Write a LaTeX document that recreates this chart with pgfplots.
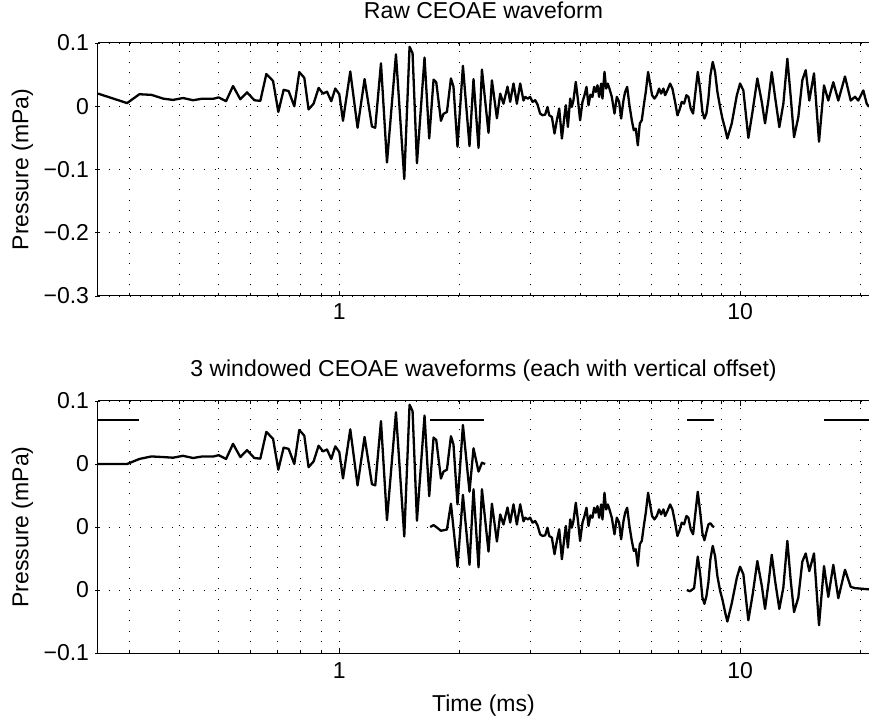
\documentclass[border=0pt]{standalone}
\usepackage{fontspec}
\setmainfont{Liberation Sans}
\usepackage{pgfplots}
\pgfplotsset{compat=1.18}
\usepackage{pgfplotstable}

\pgfplotstableread{
t p
0.2500 0.020
0.2955 0.005
0.3171 0.019
0.3398 0.018
0.3640 0.012
0.3848 0.010
0.4075 0.013
0.4316 0.0095
0.4553 0.012
0.4859 0.012
0.5000 0.014
0.5218 0.008
0.5431 0.032
0.5664 0.011
0.5886 0.022
0.6138 0.0095
0.6353 0.0085
0.6577 0.051
0.6835 0.040
0.7046 -0.009
0.7264 0.026
0.7476 0.024
0.7724 0.000
0.7947 0.054
0.8179 0.045
0.8382 -0.005
0.8627 0.004
0.8880 0.029
0.9108 0.020
0.9318 0.023
0.9550 0.008
0.9773 0.028
1.0000 0.019
1.0215 -0.023
1.0652 0.055
1.1107 -0.034
1.1563 0.043
1.2064 -0.032
1.2295 -0.034
1.2706 0.068
1.3152 -0.089
1.3849 0.082
1.4526 -0.115
1.4974 0.094
1.5235 0.084
1.5624 -0.090
1.6320 0.077
1.6766 -0.051
1.7188 0.042
1.7456 0.038
1.7932 -0.023
1.8202 -0.012
1.8562 -0.009
1.8994 0.044
1.9275 0.031
1.9724 -0.064
2.0347 0.064
2.1131 -0.063
2.1623 0.043
2.2255 -0.066
2.2695 0.058
2.3569 -0.042
2.4034 0.041
2.4736 -0.019
2.5207 0.020
2.5687 0.004
2.6285 0.031
2.6694 0.007
2.7208 0.036
2.7740 0.004
2.8275 0.036
2.8815 0.009
2.910 0.0148
2.954 0.0121
2.994 0.0148
3.035 0.0069
3.082 0.0095
3.124 0.0026
3.171 -0.0116
3.214 -0.0142
3.264 -0.0132
3.308 -0.0011
3.340 -0.0142
3.392 -0.0169
3.444 -0.0432
3.491 -0.0221
3.538 -0.0037
3.593 -0.0511
3.648 -0.0142
3.676 0.0016
3.719 -0.0327
3.768 0.0121
3.804 -0.0011
3.840 0.0095
3.892 0.0385
3.937 0.0121
3.990 -0.0221
4.044 0.0069
4.091 0.0174
4.138 0.0306
4.186 0.0016
4.234 0.0184
4.283 0.0148
4.324 0.0306
4.366 0.0227
4.408 0.0332
4.450 0.0148
4.502 0.0358
4.536 0.0121
4.589 0.0543
4.633 0.0279
4.677 0.0358
4.722 0.0279
4.786 0.0148
4.860 -0.0116
4.926 0.0148
4.992 0.0069
5.050 -0.0195
5.118 0.0095
5.167 0.0227
5.227 0.0306
5.297 0.0016
5.369 -0.0221
5.431 -0.0379
5.493 -0.0353
5.557 -0.0617
5.621 -0.0274
5.686 -0.0221
5.752 0.0016
5.818 0.0227
5.896 0.0543
5.964 0.0358
6.033 0.0174
6.115 0.0121
6.197 0.0174
6.281 0.0279
6.353 0.0200
6.439 0.0279
6.501 0.0174
6.588 0.0253
6.690 0.0358
6.780 0.0279
6.885 0.0069
6.978 -0.0142
7.058 -0.0063
7.154 0.0069
7.250 0.0042
7.348 0.0174
7.433 0.0148
7.533 -0.0037
7.635 -0.0116
7.723 0.0174
7.843 0.0543
7.948 0.0279
8.055 -0.0090
8.148 -0.0195
8.242 -0.0116
8.337 0.0121
8.433 0.0490
8.547 0.0701
8.662 0.0543
8.779 0.0227
8.915 -0.0011
9.035 -0.0195
9.175 -0.0353
9.2964 -0.051
9.5345 -0.027
9.8130 0.017
10.000 0.036
10.191 0.025
10.488 -0.050
10.757 -0.006
11.044 0.044
11.327 0.007
11.543 -0.027
11.765 0.009
11.997 0.054
12.226 0.015
12.531 -0.033
12.823 0.004
13.122 0.075
13.378 0.015
13.636 -0.049
13.976 -0.017
14.301 0.041
14.581 0.057
14.886 0.009
15.293 0.052
15.740 -0.056
16.199 0.033
16.603 0.009
17.088 0.038
17.584 0.009
18.273 0.047
18.884 0.009
19.356 0.015
19.725 0.009
20.300 0.025
20.701 0.004
20.976 -0.001
}\rawdata

\pgfplotstableread{
t p
0.2500 0
0.2955 0
0.3171 0.008
0.3398 0.012
0.3640 0.011
0.3848 0.010
0.4075 0.013
0.4316 0.0095
0.4553 0.012
0.4859 0.012
0.5000 0.014
0.5218 0.008
0.5431 0.032
0.5664 0.011
0.5886 0.022
0.6138 0.0095
0.6353 0.0085
0.6577 0.051
0.6835 0.040
0.7046 -0.009
0.7264 0.026
0.7476 0.024
0.7724 0.000
0.7947 0.054
0.8179 0.045
0.8382 -0.005
0.8627 0.004
0.8880 0.029
0.9108 0.020
0.9318 0.023
0.9550 0.008
0.9773 0.028
1.0000 0.019
1.0215 -0.023
1.0652 0.055
1.1107 -0.034
1.1563 0.043
1.2064 -0.032
1.2295 -0.034
1.2706 0.068
1.3152 -0.089
1.3849 0.082
1.4526 -0.115
1.4974 0.094
1.5235 0.084
1.5624 -0.090
1.6320 0.077
1.6766 -0.051
1.7188 0.042
1.7456 0.038
1.7932 -0.023
1.8202 -0.012
1.8562 -0.009
1.8994 0.044
1.9275 0.031
1.9724 -0.064
2.0347 0.062
2.1131 -0.044
2.1623 0.025
2.2255 -0.012
2.2695 0.002
2.3120 0.000
}\wone

\pgfplotstableread{
t p
1.6860 0
1.7188 0.003
1.7456 0.000
1.7932 -0.006
1.8562 -0.004
1.8994 0.037
1.9724 -0.063
2.0347 0.051
2.1131 -0.060
2.1623 0.060
2.2255 -0.064
2.2695 0.060
2.3569 -0.039
2.4034 0.037
2.4736 -0.023
2.5207 0.020
2.5687 0.004
2.6285 0.031
2.6694 0.007
2.7208 0.036
2.7740 0.004
2.8275 0.036
2.8815 0.009
2.910 0.0148
2.954 0.0121
2.994 0.0148
3.035 0.0069
3.082 0.0095
3.124 0.0026
3.171 -0.0116
3.214 -0.0142
3.264 -0.0132
3.308 -0.0011
3.340 -0.0142
3.392 -0.0169
3.444 -0.0432
3.491 -0.0221
3.538 -0.0037
3.593 -0.0511
3.648 -0.0142
3.676 0.0016
3.719 -0.0327
3.768 0.0121
3.804 -0.0011
3.840 0.0095
3.892 0.0385
3.937 0.0121
3.990 -0.0221
4.044 0.0069
4.091 0.0174
4.138 0.0306
4.186 0.0016
4.234 0.0184
4.283 0.0148
4.324 0.0306
4.366 0.0227
4.408 0.0332
4.450 0.0148
4.502 0.0358
4.536 0.0121
4.589 0.0543
4.633 0.0279
4.677 0.0358
4.722 0.0279
4.786 0.0148
4.860 -0.0116
4.926 0.0148
4.992 0.0069
5.050 -0.0195
5.118 0.0095
5.167 0.0227
5.227 0.0306
5.297 0.0016
5.369 -0.0221
5.431 -0.0379
5.493 -0.0353
5.557 -0.0617
5.621 -0.0274
5.686 -0.0221
5.752 0.0016
5.818 0.0227
5.896 0.0543
5.964 0.0358
6.033 0.0174
6.115 0.0121
6.197 0.0174
6.281 0.0279
6.353 0.0200
6.439 0.0279
6.501 0.0174
6.588 0.0253
6.690 0.0358
6.780 0.0279
6.885 0.0069
6.978 -0.0142
7.058 -0.0063
7.154 0.0069
7.250 0.0042
7.348 0.0174
7.433 0.0148
7.533 -0.0040
7.635 -0.0116
7.723 0.0174
7.843 0.0560
7.948 0.0250
8.055 -0.0100
8.148 -0.0210
8.242 -0.0080
8.337 0.0040
8.433 0.0060
8.547 0.0010
8.620 0.0000
}\wtwo

\pgfplotstableread{
t p
7.3641 0
7.5046 -0.002
7.6794 0.003
7.843 0.053
7.948 0.027
8.055 -0.012
8.148 -0.022
8.242 -0.010
8.337 0.012
8.433 0.049
8.547 0.070
8.662 0.054
8.779 0.022
8.915 -0.001
9.035 -0.015
9.175 -0.035
9.2964 -0.050
9.5345 -0.021
9.8130 0.019
10.000 0.037
10.191 0.025
10.488 -0.048
10.757 -0.006
11.044 0.046
11.327 0.007
11.543 -0.030
11.765 0.009
11.997 0.056
12.226 0.015
12.531 -0.030
12.823 0.004
13.122 0.078
13.378 0.015
13.636 -0.035
13.976 -0.012
14.301 0.045
14.581 0.058
14.886 0.030
15.293 0.058
15.740 -0.056
16.199 0.038
16.603 -0.011
17.088 0.040
17.584 -0.013
18.273 0.032
18.884 0.005
19.356 0.003
20.976 0.001
}\wthree

\begin{document}
\begin{tikzpicture}[font=\fontsize{23bp}{27bp}\selectfont]
\path[use as bounding box] (0,0) rectangle (869bp,717bp);
\begin{semilogxaxis}[
  at={(98bp,421bp)}, anchor=south west,
  scale only axis, width=771bp, height=253bp,
  xmin=0.25, xmax=20.976,
  ymin=-0.3, ymax=0.1,
  xtick={1,10}, xticklabels={1,10},
  minor xtick={0.3,0.4,0.5,0.6,0.7,0.8,0.9,2,3,4,5,6,7,8,9,20},
  ytick={-0.3,-0.2,-0.1,0,0.1},
  yticklabels={−0.3,−0.2,−0.1,0,0.1},
  xmajorgrids, xminorgrids, ymajorgrids,
  major grid style={black, line width=0.9bp, dash pattern=on 0.9bp off 9.7bp},
  minor grid style={black, line width=0.9bp, dash pattern=on 0.9bp off 9.7bp},
  tick align=inside, major tick length=5bp, minor tick length=3bp,
  every tick/.style={black, line width=0.9bp},
  axis line style={line width=1bp},
  axis x line=box, axis y line=left,
  y axis line style={-},
  yticklabel style={xshift=-3bp},
  xticklabel style={yshift=-4bp},
  ylabel={Pressure (mPa)},
  ylabel style={at={(axis description cs:-0.0979,0.5)}, anchor=center},
  title={Raw CEOAE waveform},
  title style={at={(axis description cs:0.5,1)}, anchor=base, yshift=18.5bp},
]
\addplot[black, line width=2.3bp, line join=round] table[x=t, y=p] {\rawdata};
\end{semilogxaxis}
\begin{semilogxaxis}[
  at={(98bp,64bp)}, anchor=south west,
  scale only axis, width=771bp, height=252bp,
  xmin=0.25, xmax=20.976,
  ymin=-0.2, ymax=0.2,
  xtick={1,10}, xticklabels={1,10},
  minor xtick={0.3,0.4,0.5,0.6,0.7,0.8,0.9,2,3,4,5,6,7,8,9,20},
  ytick={-0.2,-0.1,0,0.1,0.2},
  yticklabels={−0.1,0,0,0,0.1},
  xmajorgrids, xminorgrids, ymajorgrids,
  major grid style={black, line width=0.9bp, dash pattern=on 0.9bp off 9.7bp},
  minor grid style={black, line width=0.9bp, dash pattern=on 0.9bp off 9.7bp},
  tick align=inside, major tick length=5bp, minor tick length=3bp,
  every tick/.style={black, line width=0.9bp},
  axis line style={line width=1bp},
  axis x line=box, axis y line=left,
  y axis line style={-},
  yticklabel style={xshift=-3bp},
  xticklabel style={yshift=-6bp},
  ylabel={Pressure (mPa)},
  ylabel style={at={(axis description cs:-0.0979,0.5)}, anchor=center},
  title={3 windowed CEOAE waveforms (each with vertical offset)},
  title style={at={(axis description cs:0.5,1)}, anchor=base, yshift=18.5bp},
  xlabel={Time (ms)},
  xlabel style={at={(axis description cs:0.5,0)}, anchor=base, yshift=-58bp},
]
\addplot[black, line width=2.3bp, line join=round] table[x=t, y expr=\thisrow{p}+0.1] {\wone};
\addplot[black, line width=2.3bp, line join=round] table[x=t, y expr=\thisrow{p}] {\wtwo};
\addplot[black, line width=2.3bp, line join=round] table[x=t, y expr=\thisrow{p}-0.1] {\wthree};
\addplot[black, line width=2bp] coordinates {(0.25,0.17) (0.317,0.17)};
\addplot[black, line width=2bp] coordinates {(1.687,0.17) (2.30,0.17)};
\addplot[black, line width=2bp] coordinates {(7.36,0.17) (8.62,0.17)};
\addplot[black, line width=2bp] coordinates {(16.2,0.17) (20.976,0.17)};
\end{semilogxaxis}
\end{tikzpicture}
\end{document}
